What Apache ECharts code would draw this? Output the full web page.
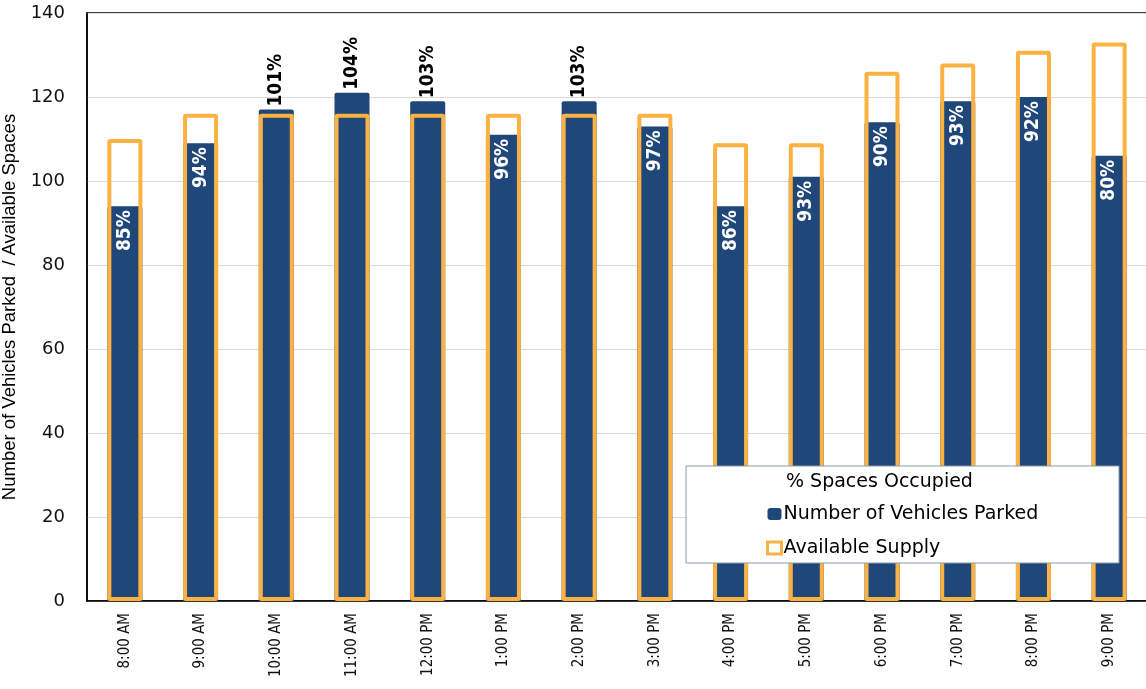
<!DOCTYPE html>
<html>
<head>
<meta charset="utf-8">
<title>Parking occupancy by hour</title>
<script src="https://cdn.jsdelivr.net/npm/echarts/dist/echarts.min.js"></script>
<style>
  html, body { margin: 0; padding: 0; background: #fff; }
  #chart { width: 1146px; height: 689px; }
</style>
</head>
<body>
<div id="chart"></div>
<script>
// data
var hours = ['8:00 AM', '9:00 AM', '10:00 AM', '11:00 AM', '12:00 PM', '1:00 PM', '2:00 PM',
  '3:00 PM', '4:00 PM', '5:00 PM', '6:00 PM', '7:00 PM', '8:00 PM', '9:00 PM'];
var parked = [94, 109, 117, 121, 119, 111, 119, 113, 94, 101, 114, 119, 120, 106];
var supply = [110, 116, 116, 116, 116, 116, 116, 116, 109, 109, 126, 128, 131, 133];
var pctOccupied = [85, 94, 101, 104, 103, 96, 103, 97, 86, 93, 90, 93, 92, 80];
var yTicks = { min: 0, max: 140, interval: 20 };

var blue = '#1f477a';
var orange = '#fcb143';
var narrow = '"Liberation Sans Narrow", "DejaVu Sans Condensed", sans-serif';

// labels: white inside the bar, black above it when over 100%
var insideLabel = {
  show: true, position: 'insideTop', distance: 4, rotate: 90,
  align: 'right', verticalAlign: 'middle',
  color: '#fff', fontFamily: narrow, fontWeight: 'bold', fontSize: 19
};
var aboveLabel = {
  show: true, position: 'top', distance: 3, rotate: 90,
  align: 'left', verticalAlign: 'middle',
  color: '#000', fontFamily: narrow, fontWeight: 'bold', fontSize: 19
};

var parkedData = [];
for (var i = 0; i < parked.length; i++) {
  var lab = pctOccupied[i] >= 100 ? aboveLabel : insideLabel;
  parkedData.push({
    value: parked[i],
    label: Object.assign({}, lab, { formatter: pctOccupied[i] + '%' })
  });
}

var myChart = echarts.init(document.getElementById('chart'));
var option = {
  animation: false,
  grid: {
    left: 87, right: -1, top: 13, bottom: 88,
    outerBoundsMode: 'none',
    containLabel: false,
    show: true, borderColor: '#000', borderWidth: 1.5, backgroundColor: 'transparent'
  },
  xAxis: [
    {
      type: 'category',
      data: hours,
      axisLine: { lineStyle: { color: '#000', width: 1.5 } },
      axisTick: { show: false },
      axisLabel: {
        interval: 0, rotate: 90, margin: 12,
        color: '#111', fontSize: 15, fontFamily: narrow
      }
    },
    {
      // hidden twin axis so the supply outline sits in the same slot
      type: 'category',
      data: hours,
      show: false,
      position: 'bottom'
    }
  ],
  yAxis: {
    type: 'value',
    min: yTicks.min, max: yTicks.max, interval: yTicks.interval,
    name: 'Number of Vehicles Parked  / Available Spaces',
    nameLocation: 'middle',
    nameGap: 66,
    nameTextStyle: { color: '#000', fontSize: 18.5, fontFamily: '"Liberation Sans", Arial, sans-serif' },
    axisLine: { show: true, lineStyle: { color: '#000', width: 1.5 } },
    axisTick: { show: false },
    axisLabel: { margin: 22, color: '#111', fontSize: 18, fontFamily: '"DejaVu Sans", sans-serif' },
    splitLine: { lineStyle: { color: '#d9d9d9', width: 1 } }
  },
  legend: {
    z: 12,
    orient: 'vertical',
    left: 761, top: 498,
    itemWidth: 14, itemHeight: 12, itemGap: 12,
    textStyle: { color: '#000', fontSize: 19, fontFamily: '"DejaVu Sans", sans-serif', lineHeight: 22, padding: [0, 0, 0, -3] },
    data: [
      { name: 'Number of Vehicles Parked', icon: 'roundRect', itemStyle: { color: blue, borderWidth: 0 } },
      { name: 'Available Supply', icon: 'rect', itemStyle: { color: '#fff', borderColor: orange, borderWidth: 3 } }
    ]
  },
  graphic: [
    {
      type: 'rect', z: 10,
      shape: { x: 686, y: 466, width: 433, height: 97 },
      style: { fill: '#fff', stroke: '#8a9bb0', lineWidth: 1 }
    },
    {
      type: 'text', z: 11,
      x: 786, y: 482,
      style: {
        text: '% Spaces Occupied', fill: '#000',
        font: '19px "DejaVu Sans", sans-serif', verticalAlign: 'middle'
      }
    }
  ],
  series: [
    {
      name: 'Number of Vehicles Parked',
      type: 'bar',
      xAxisIndex: 0,
      barWidth: 35,
      z: 2,
      itemStyle: { color: blue, borderRadius: [2, 2, 0, 0] },
      data: parkedData
    },
    {
      name: 'Available Supply',
      type: 'bar',
      xAxisIndex: 1,
      barWidth: 35,
      z: 3,
      itemStyle: { color: 'rgba(0,0,0,0)', borderColor: orange, borderWidth: 4, borderRadius: 1 },
      data: supply
    }
  ]
};
myChart.setOption(option);
</script>
</body>
</html>
